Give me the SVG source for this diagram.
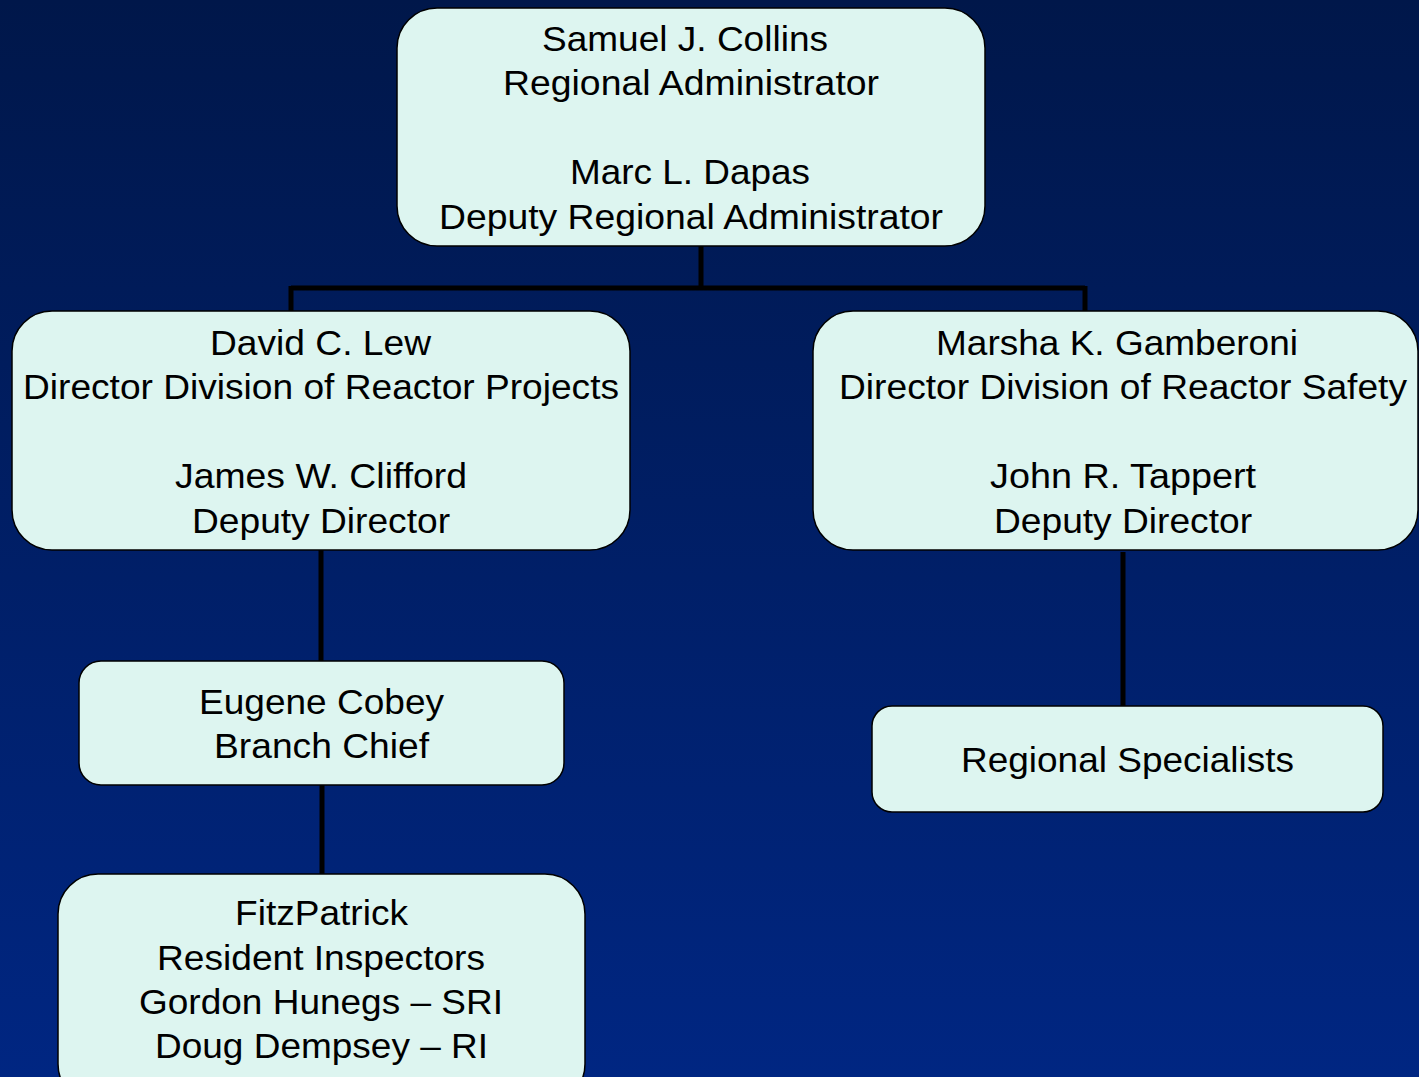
<svg xmlns="http://www.w3.org/2000/svg" width="1419" height="1077" viewBox="0 0 1419 1077">
<defs>
<linearGradient id="bg" x1="0" y1="0" x2="0" y2="1">
<stop offset="0" stop-color="#00174a"/>
<stop offset="1" stop-color="#002682"/>
</linearGradient>
<style>
.box{fill:#ddf5f0;stroke:#000;stroke-width:1.5}
.t{font-family:"Liberation Sans",Arial,sans-serif;font-size:35px;fill:#000;text-anchor:middle}
.c{stroke:#000;stroke-width:5;fill:none}
</style>
</defs>
<rect x="0" y="0" width="1419" height="1077" fill="url(#bg)"/>
<g id="connectors">
<path class="c" d="M701 246V288M291 288H1085M291 286V312M1085 286V312"/>
<path class="c" d="M321 550V661M322 785V874"/>
<path class="c" d="M1123 552V706"/>
</g>
<g id="n-collins">
<rect class="box" x="397" y="8" width="588" height="238" rx="40"/>
<text class="t" x="685" y="51" textLength="286" lengthAdjust="spacingAndGlyphs">Samuel J. Collins</text>
<text class="t" x="691" y="95" textLength="376" lengthAdjust="spacingAndGlyphs">Regional Administrator</text>
<text class="t" x="690" y="184" textLength="240" lengthAdjust="spacingAndGlyphs">Marc L. Dapas</text>
<text class="t" x="691" y="229" textLength="504" lengthAdjust="spacingAndGlyphs">Deputy Regional Administrator</text>
</g>
<g id="n-lew">
<rect class="box" x="12" y="311" width="618" height="239" rx="40"/>
<text class="t" x="320.5" y="355" textLength="221" lengthAdjust="spacingAndGlyphs">David C. Lew</text>
<text class="t" x="321" y="399" textLength="596" lengthAdjust="spacingAndGlyphs">Director Division of Reactor Projects</text>
<text class="t" x="321" y="488" textLength="292" lengthAdjust="spacingAndGlyphs">James W. Clifford</text>
<text class="t" x="321" y="533" textLength="258" lengthAdjust="spacingAndGlyphs">Deputy Director</text>
</g>
<g id="n-gamberoni">
<rect class="box" x="813" y="311" width="605" height="239" rx="40"/>
<text class="t" x="1117" y="355" textLength="362" lengthAdjust="spacingAndGlyphs">Marsha K. Gamberoni</text>
<text class="t" x="1123" y="399" textLength="568" lengthAdjust="spacingAndGlyphs">Director Division of Reactor Safety</text>
<text class="t" x="1123" y="488" textLength="266" lengthAdjust="spacingAndGlyphs">John R. Tappert</text>
<text class="t" x="1123" y="533" textLength="258" lengthAdjust="spacingAndGlyphs">Deputy Director</text>
</g>
<g id="n-cobey">
<rect class="box" x="79" y="661" width="485" height="124" rx="22"/>
<text class="t" x="321.5" y="714" textLength="245" lengthAdjust="spacingAndGlyphs">Eugene Cobey</text>
<text class="t" x="321.5" y="758" textLength="215" lengthAdjust="spacingAndGlyphs">Branch Chief</text>
</g>
<g id="n-fitzpatrick">
<rect class="box" x="58" y="874" width="527" height="230" rx="40"/>
<text class="t" x="321.5" y="925" textLength="173" lengthAdjust="spacingAndGlyphs">FitzPatrick</text>
<text class="t" x="321" y="970" textLength="328" lengthAdjust="spacingAndGlyphs">Resident Inspectors</text>
<text class="t" x="321" y="1014" textLength="364" lengthAdjust="spacingAndGlyphs">Gordon Hunegs – SRI</text>
<text class="t" x="321.5" y="1058" textLength="333" lengthAdjust="spacingAndGlyphs">Doug Dempsey – RI</text>
</g>
<g id="n-specialists">
<rect class="box" x="872" y="706" width="511" height="106" rx="20"/>
<text class="t" x="1127.5" y="772" textLength="333" lengthAdjust="spacingAndGlyphs">Regional Specialists</text>
</g>
</svg>
